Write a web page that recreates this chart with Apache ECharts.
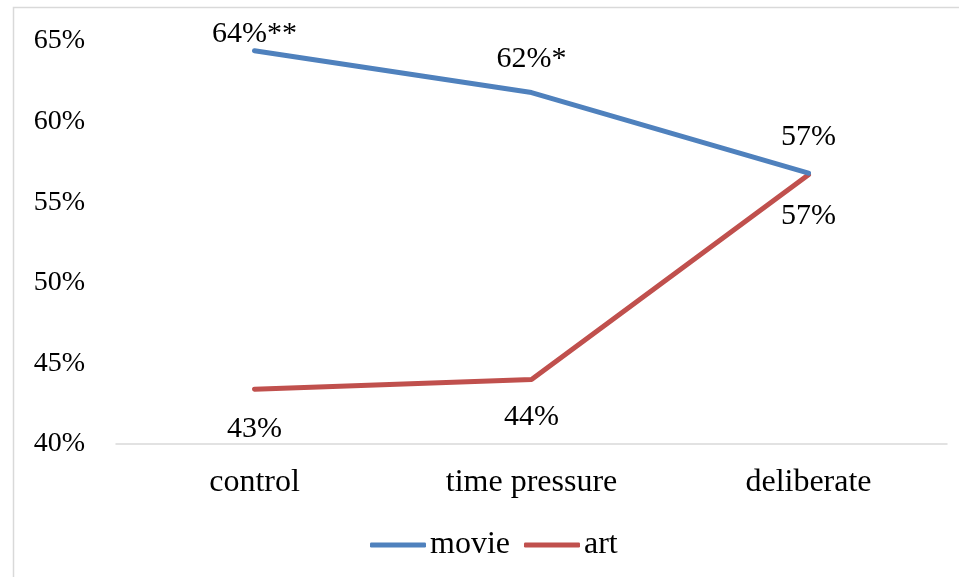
<!DOCTYPE html>
<html>
<head>
<meta charset="utf-8">
<script src="https://cdn.jsdelivr.net/npm/echarts@6/dist/echarts.min.js"></script>
<style>
  html, body { margin: 0; padding: 0; background: #fff; }
  #chart { width: 959px; height: 577px; }
</style>
</head>
<body>
<div id="chart"></div>
<script>
// Share of choices per condition (percent)
const categories = ['control', 'time pressure', 'deliberate'];
const seriesNames = ['movie', 'art'];
const movieValues = [64.4, 61.8, 56.8];
const artValues = [43.4, 44.0, 56.7];
// Significance markers appended to the value labels
const movieMarks = ['**', '*', ''];
const artMarks = ['', '', ''];
const yTicks = { min: 40, max: 65, step: 5 };

const FONT = '"Liberation Serif", "Times New Roman", serif';
const BLUE = '#4f81bd';
const RED = '#c0504d';

function buildData(values, marks, position, distances) {
  return values.map((v, i) => ({
    value: v,
    label: {
      show: true,
      position: position,
      distance: distances[i],
      formatter: () => Math.round(v) + '%' + marks[i]
    }
  }));
}

const chart = echarts.init(document.getElementById('chart'), null, { renderer: 'canvas' });

chart.setOption({
  animation: false,
  backgroundColor: '#ffffff',
  textStyle: { fontFamily: FONT },
  graphic: [{
    type: 'rect',
    shape: { x: 13.5, y: 7.5, width: 1000, height: 1000 },
    style: { fill: 'none', stroke: '#d9d9d9', lineWidth: 1.5 },
    silent: true
  }],
  grid: { left: 116, right: 12, top: 41, bottom: 133, containLabel: false },
  legend: {
    data: seriesNames,
    bottom: 11,
    left: 365,
    icon: 'roundRect',
    itemWidth: 56,
    itemHeight: 5,
    itemGap: 14,
    textStyle: { fontFamily: FONT, fontSize: 32, color: '#000', padding: [0, 0, 0, -1] }
  },
  xAxis: {
    type: 'category',
    data: categories,
    boundaryGap: true,
    axisLine: { show: true, lineStyle: { color: '#d9d9d9', width: 1.5 } },
    axisTick: { show: false },
    axisLabel: { fontFamily: FONT, fontSize: 32, color: '#000', margin: 23 }
  },
  yAxis: {
    type: 'value',
    min: yTicks.min,
    max: yTicks.max,
    interval: yTicks.step,
    axisLine: { show: false },
    axisTick: { show: false },
    splitLine: { show: false },
    axisLabel: {
      fontFamily: FONT, fontSize: 28, color: '#000', margin: 31,
      formatter: '{value}%'
    }
  },
  series: [
    {
      name: seriesNames[0],
      type: 'line',
      data: buildData(movieValues, movieMarks, 'top', [2, 18, 21]),
      symbol: 'circle',
      symbolSize: 0,
      showSymbol: true,
      lineStyle: { color: BLUE, width: 5, cap: 'round', join: 'round' },
      itemStyle: { color: BLUE },
      label: { show: true, fontFamily: FONT, fontSize: 30, color: '#000' },
      z: 3
    },
    {
      name: seriesNames[1],
      type: 'line',
      data: buildData(artValues, artMarks, 'bottom', [25, 23, 26]),
      symbol: 'circle',
      symbolSize: 0,
      showSymbol: true,
      lineStyle: { color: RED, width: 5, cap: 'round', join: 'round' },
      itemStyle: { color: RED },
      label: { show: true, fontFamily: FONT, fontSize: 30, color: '#000' },
      z: 2
    }
  ]
});
</script>
</body>
</html>
